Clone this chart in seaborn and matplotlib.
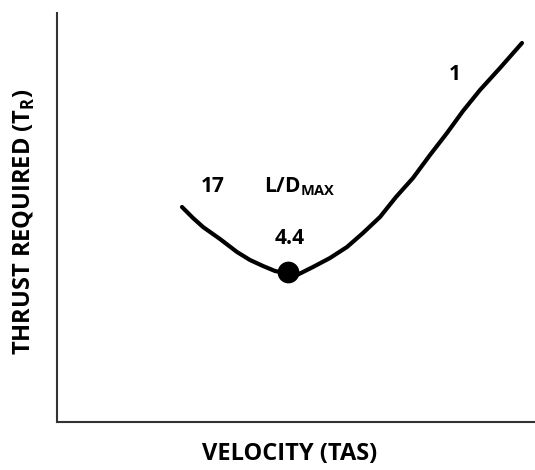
import seaborn as sns
import matplotlib.pyplot as plt
import pandas as pd

sns.set_style("white")
plt.rcParams['font.family'] = ['Open Sans', 'DejaVu Sans']
plt.rcParams['mathtext.fontset'] = 'custom'
plt.rcParams['mathtext.rm'] = 'Open Sans:bold'
plt.rcParams['text.color'] = 'black'
plt.rcParams['axes.labelcolor'] = 'black'

# thrust required curve (arbitrary units)
velocity = [125, 136, 146, 163, 180, 193, 206, 218, 231, 231, 240, 256, 273, 290, 306, 323, 339, 356, 373, 390, 406, 423, 443, 465]
thrust = [215, 204, 195, 183, 170, 162, 156, 151, 149, 148, 147, 155, 164, 175, 189, 205, 225, 244, 267, 289, 311, 332, 354, 379]
min_velocity = [231]
min_thrust = [150]

# labels: text, x, y
labels = ["17", "4.4", "1"]
label_x = [156, 233, 398]
label_y = [236, 184, 348]

df = pd.DataFrame({"velocity": velocity, "thrust": thrust})

fig = plt.figure(figsize=(5.35, 4.7), dpi=100)
ax = fig.add_axes([57 / 535, 48 / 470, 478 / 535, 409 / 470])

sns.lineplot(data=df, x="velocity", y="thrust", sort=False, color="black",
             linewidth=3, ax=ax)
sns.scatterplot(x=min_velocity, y=min_thrust, color="black", s=210,
                edgecolor="black", ax=ax, zorder=5)

for t, x, y in zip(labels, label_x, label_y):
    ax.text(x, y, t, fontsize=15, fontweight="bold", ha="center", va="center")

ax.text(243, 235, r"L/D$_{\mathrm{MAX}}$", fontsize=15, fontweight="bold",
        ha="center", va="center")

ax.set_xlim(0, 478)
ax.set_ylim(0, 409)
ax.set_xticks([])
ax.set_yticks([])
for side in ["top", "right"]:
    ax.spines[side].set_visible(False)
for side in ["left", "bottom"]:
    ax.spines[side].set_color("#333333")
    ax.spines[side].set_linewidth(1.5)

ax.set_xlabel("VELOCITY (TAS)", fontsize=17, fontweight="bold")
ax.set_ylabel(r"THRUST REQUIRED (T$_{\mathrm{R}}$)", fontsize=17,
              fontweight="bold")
ax.xaxis.set_label_coords(0.487, -0.05)
ax.yaxis.set_label_coords(-0.042, 0.49)

plt.savefig("out.png", dpi=100)
plt.close()
